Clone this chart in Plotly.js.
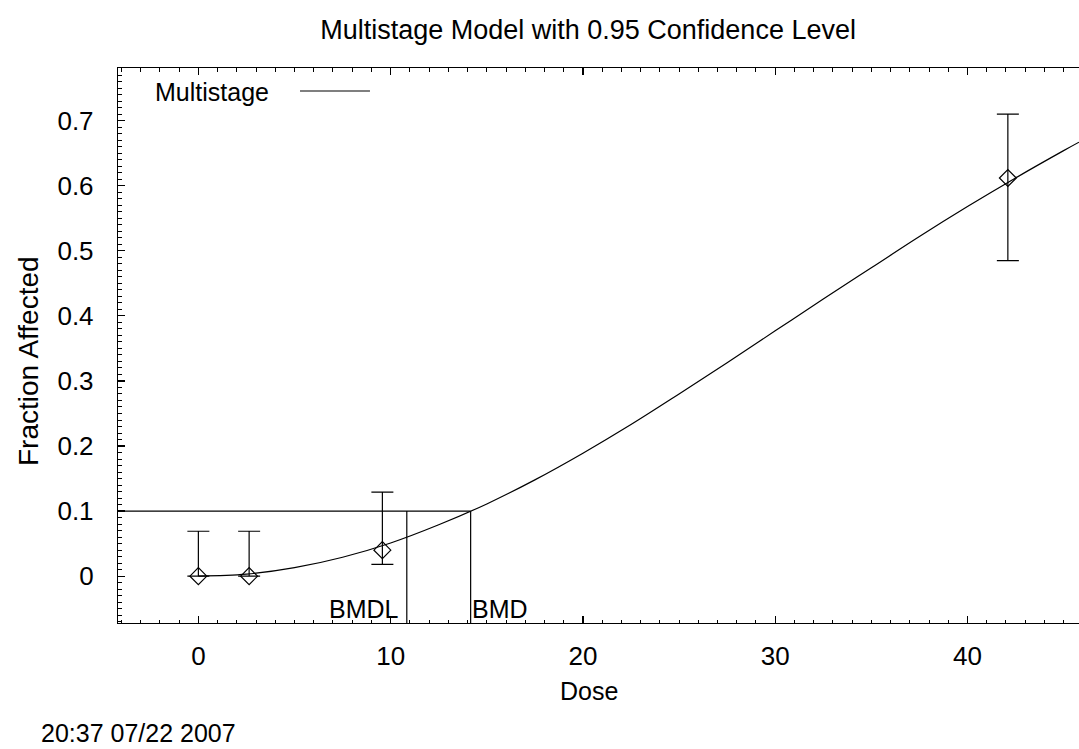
<!DOCTYPE html>
<html>
<head>
<meta charset="utf-8">
<script src="https://cdn.plot.ly/plotly-3.0.1.min.js"></script>
<style>html,body{margin:0;padding:0;background:#fff;}#chart{width:1079px;height:749px;}</style>
</head>
<body>
<div id="chart"></div>
<script>
// Observed data
var doses = [0, 2.64, 9.57, 42.1];
var fractionAffected = [0, 0, 0.040, 0.612];
var upperCI = [0.069, 0.069, 0.129, 0.710];
var lowerCI = [0, 0, 0.018, 0.485];

// Fitted multistage curve
var curveDose = [0, 2.5, 5, 7.5, 10, 12.5, 15, 17.5, 20, 22.5, 25, 27.5, 30, 32.5, 35, 37.5, 40, 42.5, 45, 45.8];
var curveFrac = [0.000, 0.003, 0.013, 0.029, 0.051, 0.079, 0.111, 0.148, 0.189, 0.233, 0.280, 0.328, 0.377, 0.426, 0.474, 0.522, 0.568, 0.612, 0.654, 0.667];

// Benchmark values
var bmr = 0.1;
var bmd = 14.16;
var bmdl = 10.84;

var xRange = [-4.18, 45.8];
var yRange = [-0.072, 0.781];

var F = 'Arial, "Liberation Sans", sans-serif';

var errPlus = upperCI.map(function (u, i) { return u - fractionAffected[i]; });
var errMinus = lowerCI.map(function (l, i) { return fractionAffected[i] - l; });

var traces = [
  {
    x: curveDose, y: curveFrac, type: 'scatter', mode: 'lines',
    line: {color: '#000', width: 1.2, shape: 'spline'}, hoverinfo: 'skip', name: 'Multistage'
  },
  {
    x: [xRange[0], bmd], y: [bmr, bmr], type: 'scatter', mode: 'lines',
    line: {color: '#000', width: 1.2}, hoverinfo: 'skip'
  },
  {
    x: [bmdl, bmdl], y: [yRange[0], bmr], type: 'scatter', mode: 'lines',
    line: {color: '#000', width: 1.2}, hoverinfo: 'skip'
  },
  {
    x: [bmd, bmd], y: [yRange[0], bmr], type: 'scatter', mode: 'lines',
    line: {color: '#000', width: 1.2}, hoverinfo: 'skip'
  },
  {
    x: doses, y: fractionAffected, type: 'scatter', mode: 'markers',
    marker: {symbol: 'diamond-open', size: 13, color: '#000', line: {width: 1.2, color: '#000'}},
    error_y: {type: 'data', symmetric: false, array: errPlus, arrayminus: errMinus,
              color: '#000', thickness: 1.2, width: 11},
    name: 'Data'
  }
];

var layout = {
  width: 1079, height: 749,
  margin: {l: 118, r: 0, t: 68, b: 126},
  paper_bgcolor: '#fff', plot_bgcolor: '#fff',
  showlegend: false,
  font: {family: F, size: 25, color: '#000'},
  title: {text: 'Multistage Model with 0.95 Confidence Level', xref: 'container', yref: 'container',
          x: 0.545, y: 0.96, xanchor: 'center', yanchor: 'middle', font: {family: F, size: 27, color: '#000'}},
  xaxis: {
    range: xRange, showgrid: false, zeroline: false,
    showline: true, linecolor: '#000', linewidth: 1.2, mirror: 'ticks',
    ticks: 'inside', ticklen: 7, tickwidth: 1.2, tickcolor: '#000',
    tickmode: 'linear', tick0: 0, dtick: 10, ticklabelstandoff: 10,
    tickfont: {family: F, size: 26, color: '#000'},
    minor: {ticks: 'inside', ticklen: 3.5, tickwidth: 1, tickcolor: '#000', dtick: 1, tick0: 0, showgrid: false}
  },
  yaxis: {
    range: yRange, showgrid: false, zeroline: false,
    showline: true, linecolor: '#000', linewidth: 1.2, mirror: false,
    ticks: 'inside', ticklen: 7, tickwidth: 1.2, tickcolor: '#000',
    tickmode: 'linear', tick0: 0, dtick: 0.1, ticklabelstandoff: 18,
    tickfont: {family: F, size: 26, color: '#000'},
    minor: {ticks: 'inside', ticklen: 3.5, tickwidth: 1, tickcolor: '#000', dtick: 0.01, tick0: 0, showgrid: false}
  },
  annotations: [
    {text: 'Dose', xref: 'paper', yref: 'paper', x: 0.490, y: -0.123, xanchor: 'center', yanchor: 'middle',
     showarrow: false, font: {family: F, size: 25, color: '#000'}},
    {text: 'Fraction Affected', xref: 'paper', yref: 'paper', x: -0.0937, y: 0.472, xanchor: 'center', yanchor: 'middle',
     textangle: -90, showarrow: false, font: {family: F, size: 28, color: '#000'}},
    {text: '20:37 07/22 2007', xref: 'paper', yref: 'paper', x: -0.0822, y: -0.198, xanchor: 'left', yanchor: 'middle',
     showarrow: false, font: {family: F, size: 25, color: '#000'}},
    {text: 'Multistage', xref: 'paper', yref: 'paper', x: 0.0364, y: 0.9568, xanchor: 'left', yanchor: 'middle',
     showarrow: false, font: {family: F, size: 25, color: '#000'}},
    {text: 'BMDL', xref: 'x', yref: 'paper', x: bmdl, y: 0.0252, xanchor: 'right', yanchor: 'middle', xshift: -6,
     showarrow: false, font: {family: F, size: 25, color: '#000'}},
    {text: 'BMD', xref: 'x', yref: 'paper', x: bmd, y: 0.0252, xanchor: 'left', yanchor: 'middle', xshift: -1,
     showarrow: false, font: {family: F, size: 25, color: '#000'}}
  ],
  shapes: [
    {type: 'line', xref: 'paper', yref: 'paper', x0: 0.1894, x1: 0.2622, y0: 0.9586, y1: 0.9586,
     line: {color: '#000', width: 1.2}}
  ]
};

Plotly.newPlot('chart', traces, layout, {displayModeBar: false, staticPlot: true});
</script>
</body>
</html>
